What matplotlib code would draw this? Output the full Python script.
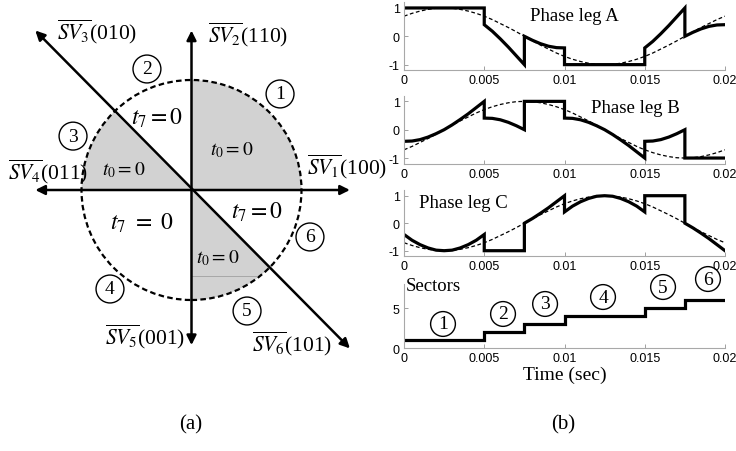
import matplotlib
matplotlib.use("Agg")
import matplotlib.pyplot as plt
from matplotlib.patches import Circle, Wedge

plt.rcParams["mathtext.fontset"] = "stix"
plt.rcParams["font.family"] = ["Liberation Serif", "DejaVu Serif"]

# ---- panel (a): space-vector diagram ----
shaded_sectors = [(0, 90), (135, 180), (270, 315)]   # degrees, t0 = 0 regions
vector_labels = [r"$\overline{SV_1}$(100)", r"$\overline{SV_2}$(110)", r"$\overline{SV_3}$(010)",
                 r"$\overline{SV_4}$(011)", r"$\overline{SV_5}$(001)", r"$\overline{SV_6}$(101)"]
sector_names = ["1", "2", "3", "4", "5", "6"]

# ---- panel (b): waveforms (time in ms) ----
ref_time_ms = [0, 0.5, 1, 1.5, 2, 2.5, 3, 3.5, 4, 4.5, 5, 5.5, 6, 6.5, 7, 7.5, 8, 8.5, 9, 9.5,
               10, 10.5, 11, 11.5, 12, 12.5, 13, 13.5, 14, 14.5, 15, 15.5, 16, 16.5, 17, 17.5,
               18, 18.5, 19, 19.5, 20]
ref_a = [.71, .81, .89, .95, .99, 1, .99, .95, .89, .81, .71, .59, .45, .31, .16, 0, -.16, -.31,
         -.45, -.59, -.71, -.81, -.89, -.95, -.99, -1, -.99, -.95, -.89, -.81, -.71, -.59, -.45,
         -.31, -.16, 0, .16, .31, .45, .59, .71]
ref_b = [-.71, -.59, -.45, -.31, -.16, 0, .16, .31, .45, .59, .71, .81, .89, .95, .99, 1, .99, .95,
         .89, .81, .71, .59, .45, .31, .16, 0, -.16, -.31, -.45, -.59, -.71, -.81, -.89, -.95,
         -.99, -1, -.99, -.95, -.89, -.81, -.71]
ref_c = [-.71, -.81, -.89, -.95, -.99, -1, -.99, -.95, -.89, -.81, -.71, -.59, -.45, -.31, -.16, 0,
         .16, .31, .45, .59, .71, .81, .89, .95, .99, 1, .99, .95, .89, .81, .71, .59, .45, .31,
         .16, 0, -.16, -.31, -.45, -.59, -.71]

leg_time_ms = [0, 0.5, 1, 1.5, 2, 2.5, 3, 3.5, 4, 4.5, 5,
               5, 5.5, 6, 6.5, 7, 7.5,
               7.5, 8, 8.5, 9, 9.5, 10,
               10, 10.5, 11, 11.5, 12, 12.5, 13, 13.5, 14, 14.5, 15,
               15, 15.5, 16, 16.5, 17, 17.5,
               17.5, 18, 18.5, 19, 19.5, 20]
leg_a = [1, 1, 1, 1, 1, 1, 1, 1, 1, 1, 1,
         .41, .18, -.09, -.38, -.69, -1,
         0, -.14, -.26, -.35, -.40, -.41,
         -1, -1, -1, -1, -1, -1, -1, -1, -1, -1, -1,
         -.41, -.18, .09, .38, .69, 1,
         0, .14, .26, .35, .40, .41]
leg_b = [-.41, -.40, -.35, -.26, -.14, 0, .17, .36, .56, .78, 1,
         .41, .40, .35, .26, .14, 0,
         1, 1, 1, 1, 1, 1,
         .41, .40, .35, .26, .14, 0, -.17, -.36, -.56, -.78, -1,
         -.41, -.40, -.35, -.26, -.14, 0,
         -1, -1, -1, -1, -1, -1]
leg_c = [-.41, -.62, -.78, -.90, -.98, -1, -.98, -.90, -.78, -.62, -.41,
         -1, -1, -1, -1, -1, -1,
         0, .17, .36, .56, .78, 1,
         .41, .62, .78, .90, .98, 1, .98, .90, .78, .62, .41,
         1, 1, 1, 1, 1, 1,
         0, -.17, -.36, -.56, -.78, -1]

sector_edges_ms = [0, 5, 7.5, 10, 15, 17.5, 20]
sector_ids = [1, 2, 3, 4, 5, 6]
x_ticks = [0, 0.005, 0.01, 0.015, 0.02]
x_tick_labels = ["0", "0.005", "0.01", "0.015", "0.02"]

fig = plt.figure(figsize=(7.36, 4.52), dpi=100)

# ---------- (a) ----------
ax = fig.add_axes([0, 69 / 452, 383 / 736, 383 / 452])
ax.set_xlim(-191.5 / 110, 191.5 / 110)
ax.set_ylim(-192 / 110, 191 / 110)
ax.axis("off")

for start, end in shaded_sectors:
    ax.add_patch(Wedge((0, 0), 1.0, start, end, facecolor="#d2d2d2", edgecolor="none"))
ax.plot([0, 0.6], [-0.78, -0.78], color="#a0a0a0", lw=0.6)
ax.add_patch(Circle((0, 0), 1.0, fill=False, ls=(0, (2.5, 1.5)), lw=1.6, color="black"))

arrow_kw = dict(arrowstyle="<|-|>", color="black", lw=1.8, mutation_scale=14, shrinkA=0, shrinkB=0)
ax.annotate("", xy=(1.44, 0), xytext=(-1.42, 0), arrowprops=arrow_kw)
ax.annotate("", xy=(0, 1.45), xytext=(0, -1.41), arrowprops=arrow_kw)
ax.annotate("", xy=(1.44, -1.44), xytext=(-1.42, 1.45), arrowprops=arrow_kw)

vec_pos = [(1.05, 0.22), (0.51, 1.42), (-0.86, 1.445), (-1.305, 0.175), (-0.42, -1.33), (0.91, -1.385)]
for i, (label, (x, y)) in enumerate(zip(vector_labels, vec_pos)):
    ax.text(x, y, label, fontsize=15.5, ha="left" if i == 0 else "center", va="center")

num_pos = [(0.805, 0.873), (-0.405, 1.10), (-1.077, 0.49), (-0.741, -0.9), (0.505, -1.1), (1.077, -0.427)]
for name, (x, y) in zip(sector_names, num_pos):
    ax.text(x, y, name, fontsize=14, ha="center", va="center",
            bbox=dict(boxstyle="circle,pad=0.28", fc="none", ec="black", lw=1.0))

ax.text(-0.31, 0.66, r"$t_7 = 0$", fontsize=17, ha="center", va="center")
ax.text(-0.45, -0.29, r"$t_7\ =\ 0$", fontsize=17, ha="center", va="center")
ax.text(0.595, -0.19, r"$t_7 = 0$", fontsize=17, ha="center", va="center")
ax.text(0.37, 0.37, r"$t_0 = 0$", fontsize=14, ha="center", va="center")
ax.text(-0.62, 0.19, r"$t_0 = 0$", fontsize=14, ha="center", va="center")
ax.text(0.24, -0.61, r"$t_0 = 0$", fontsize=14, ha="center", va="center")

# ---------- (b) ----------
ref_t = [t / 1000 for t in ref_time_ms]
leg_t = [t / 1000 for t in leg_time_ms]
edges = [t / 1000 for t in sector_edges_ms]

left, width = 404 / 736, 321 / 736
boxes = [(71.3, 68), (164.7, 68), (257.2, 66), (349.3, 64)]
axes_b = [fig.add_axes([left, (452 - b) / 452, width, h / 452]) for b, h in boxes]

for axb in axes_b:
    axb.set_xlim(0, 0.02)
    axb.set_xticks(x_ticks)
    axb.set_xticklabels(x_tick_labels, family="Liberation Sans", fontsize=9)
    for side in ("top", "right"):
        axb.spines[side].set_visible(False)
    for side in ("left", "bottom"):
        axb.spines[side].set_color("#a8a8a8")
        axb.spines[side].set_linewidth(0.8)
    axb.tick_params(direction="in", length=3, width=0.6, color="#909090", pad=3)
    axb.set_facecolor("none")

phases = [(ref_a, leg_a, "Phase leg A", (0.0106, 0.72)),
          (ref_b, leg_b, "Phase leg B", (0.0144, 0.80)),
          (ref_c, leg_c, "Phase leg C", (0.00368, 0.77))]
for axb, (ref, leg, title, (tx, ty)) in zip(axes_b[:3], phases):
    axb.plot(ref_t, ref, color="black", lw=0.9, ls=(0, (3, 2)))
    axb.plot(leg_t, leg, color="black", lw=2.3, solid_joinstyle="miter")
    axb.set_ylim(-1.2, 1.2)
    axb.set_yticks([-1, 0, 1])
    axb.set_yticklabels(["-1", "0", "1"], family="Liberation Sans", fontsize=9)
    axb.text(tx, ty, title, fontsize=13.5, ha="center", va="center")

axs = axes_b[3]
axs.stairs(sector_ids, edges, color="black", lw=2.3, baseline=None)
axs.set_ylim(0, 8)
axs.set_yticks([0, 5])
axs.set_yticklabels(["0", "5"], family="Liberation Sans", fontsize=9)
axs.text(0.0001, 7.9, "Sectors", fontsize=13.5, ha="left", va="center")
axs.set_xlabel("Time (sec)", fontsize=14, labelpad=1)

sec_pos = [(0.00243, 3.04), (0.00617, 4.29), (0.00879, 5.54), (0.0124, 6.41), (0.01614, 7.66), (0.01894, 8.66)]
for name, (x, y) in zip(sector_names, sec_pos):
    axs.text(x, y, name, fontsize=14, ha="center", va="center", clip_on=False,
             bbox=dict(boxstyle="circle,pad=0.2", fc="none", ec="black", lw=1.0))

fig.text(191 / 736, (452 - 425) / 452, "(a)", fontsize=15, ha="center", va="center")
fig.text(563 / 736, (452 - 425) / 452, "(b)", fontsize=15, ha="center", va="center")

fig.savefig("out.png", dpi=100)
